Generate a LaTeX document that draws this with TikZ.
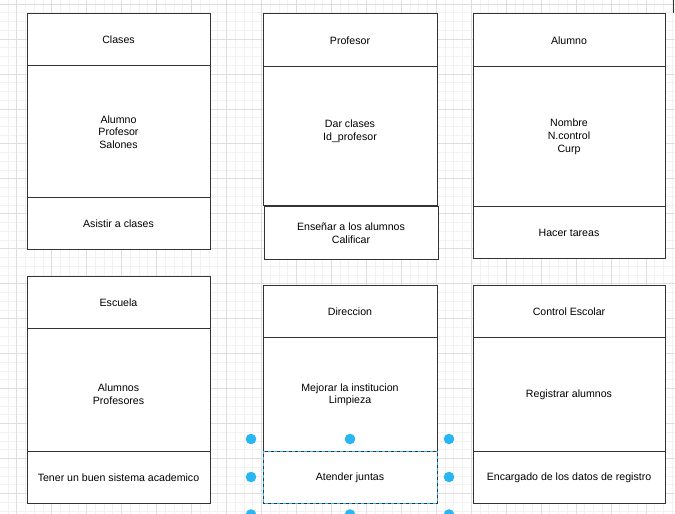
\documentclass[tikz,border=0pt]{standalone}
\usepackage{fontspec}
\setmainfont{Liberation Sans}
\definecolor{handle}{RGB}{41,182,242}
\definecolor{edge}{RGB}{51,51,51}
\tikzset{
  minorgrid/.style={draw=black!5, line width=0.7pt},
  majorgrid/.style={draw=black!13, line width=0.7pt},
  cell/.style={draw=edge, fill=white, line width=1pt, inner sep=0pt, outer sep=0pt,
    anchor=north west},
  celltext/.style={inner sep=0pt, align=center, font=\fontsize{10.6}{12.65}\selectfont},
  handledot/.style={circle, fill=handle, inner sep=0pt, minimum size=10.6pt},
  selection/.style={draw=handle, line width=1pt, dash pattern=on 3pt off 3pt}
}
\newcommand\cellbox[6]{%
  \node[cell, minimum width=#4pt, minimum height=#5pt] (#1) at (#2,#3) {};
  \node[celltext, yshift=-0.8pt] (#1t) at (#1.center) {#6};}
\begin{document}
\begin{tikzpicture}[x=1pt, y=-1pt]
\useasboundingbox (0,0) rectangle (675,514);
\fill[white] (0,0) rectangle (675,514);
% grid
\foreach \i in {-2,...,75} \draw[minorgrid] ({16.7+\i*8.74},0) -- ++(0,514);
\foreach \i in {-1,...,58} \draw[minorgrid] (0,{4+\i*8.74}) -- ++(675,0);
\foreach \i in {0,...,18} \draw[majorgrid] ({16.7+\i*34.96},0) -- ++(0,514);
\foreach \i in {0,...,14} \draw[majorgrid] (0,{4+\i*34.96}) -- ++(675,0);
% edge of an off-picture shape
\draw[edge, line width=1pt] (673.5,0) -- (673.5,13);
% Clases
\cellbox{clH}{27}{13}{183}{52.5}{Clases}
\cellbox{clM}{27}{65.5}{183}{131.5}{Alumno\\Profesor\\Salones}
\cellbox{clB}{27}{197}{183}{52}{Asistir a clases}
% Profesor
\cellbox{prH}{263}{13}{174}{53}{Profesor}
\cellbox{prM}{263}{66}{174}{139}{Dar clases\\Id\_profesor\\\mbox{}}
\cellbox{prB}{264}{206}{174}{53}{Enseñar a los alumnos\\Calificar}
% Alumno
\cellbox{alH}{473}{13}{192}{53}{Alumno}
\cellbox{alM}{473}{66}{192}{140}{Nombre\\N.control\\Curp}
\cellbox{alB}{473}{206}{192}{52}{Hacer tareas}
% Escuela
\cellbox{esH}{27}{276}{183}{52}{Escuela}
\node[cell, minimum width=183pt, minimum height=123pt] (esM) at (27,328) {};
\node[celltext] (esT) at (118.5,394.3) {Alumnos\\Profesores};
\cellbox{esB}{27}{451}{183}{52}{Tener un buen sistema academico}
% Direccion
\cellbox{diH}{263}{285}{174}{52}{Direccion}
\cellbox{diM}{263}{337}{174}{114}{Mejorar la institucion\\Limpieza}
\cellbox{diB}{263}{451}{174}{52}{Atender juntas}
% Control Escolar
\cellbox{ceH}{473}{285}{192}{52}{Control Escolar}
\cellbox{ceM}{473}{337}{192}{114}{Registrar alumnos}
\cellbox{ceB}{473}{451}{192}{52}{Encargado de los datos de registro}
% selection
\draw[selection] (diB.north west) rectangle (diB.south east);
\node[handledot] (h1) at (251,439) {};
\node[handledot] (h2) at (350,439) {};
\node[handledot] (h3) at (449,439) {};
\node[handledot] (h4) at (251,477) {};
\node[handledot] (h5) at (449,477) {};
\node[handledot] (h6) at (251,514.5) {};
\node[handledot] (h7) at (350,514.5) {};
\node[handledot] (h8) at (449,514.5) {};
\end{tikzpicture}
\end{document}
